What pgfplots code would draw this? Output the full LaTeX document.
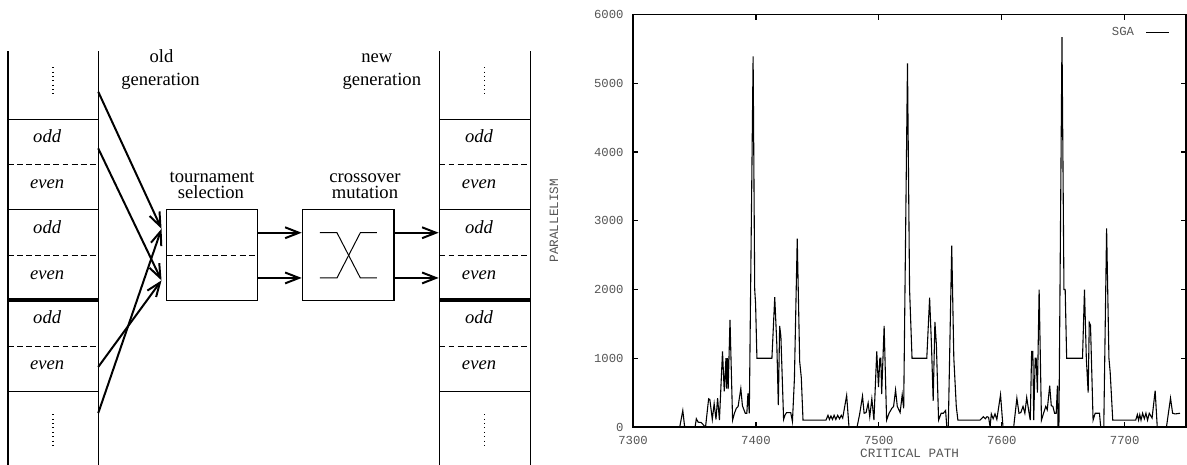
\documentclass[border=0pt]{standalone}
\usepackage{fontspec}
\setmainfont{Liberation Serif}
\newfontfamily\plotfont{Liberation Mono}
\usepackage{pgfplots}
\pgfplotsset{compat=1.18}
\usetikzlibrary{arrows.meta}
\definecolor{cTick}{RGB}{85,85,85}

\pgfplotstableread{
x y
7300 0
7338 0
7340.5 240
7342 0
7350.5 0
7351.5 120
7353 70
7355.5 65
7357.5 25
7359 0
7361.5 410
7362.5 400
7364.5 110
7366 340
7367.5 110
7368.8 420
7370.3 100
7372.8 1100
7374.2 520
7375.6 1000
7376 560
7376.8 1000
7377.4 550
7378.9 1560
7381 100
7382.5 200
7384 270
7385.5 300
7387.7 560
7389 310
7391.3 200
7392.6 200
7393.5 490
7394.6 200
7397.7 5390
7399 2000
7399.7 1800
7400.8 1000
7413 1000
7415.3 1890
7417 1200
7418.2 320
7419.3 1470
7420.3 1320
7422.5 110
7423.8 180
7425 210
7428.3 210
7429.7 80
7431.3 700
7433.6 2740
7435.6 950
7436.9 720
7438.3 100
7457 100
7458.6 170
7459.8 110
7461 160
7462.3 110
7463.6 170
7465 110
7466.5 170
7468 120
7469.4 170
7470.6 130
7473.8 460
7475.7 0
7482.3 0
7484.5 200
7486.7 450
7488 200
7489.6 210
7491.3 350
7492.6 150
7494.3 410
7496 100
7498.3 1100
7499.7 580
7500.8 1000
7501.6 1000
7502.3 480
7504.3 1470
7506.3 100
7508.3 200
7510.5 270
7512 300
7513.6 540
7515 300
7517.3 210
7519 470
7520.2 270
7523.3 5290
7525 2000
7527 1000
7539 1000
7541.3 1880
7542.8 1200
7544.2 380
7545.6 1530
7546.8 1200
7548.6 100
7550.7 200
7552.5 200
7554.3 240
7555.3 0
7556.5 0
7559.3 2640
7561 1000
7563 300
7564.3 100
7582.3 100
7585 150
7586.6 120
7588 150
7589.3 140
7590.5 0
7591.5 190
7593 120
7594.5 190
7596 110
7599 470
7601 0
7609.7 0
7612.3 420
7614 200
7615.5 210
7617.3 300
7618.8 200
7620.3 430
7621.8 250
7623.2 100
7624.3 1100
7625.3 1100
7626 100
7627.2 1000
7628 1000
7629 500
7630.4 2000
7632.3 100
7634 200
7635.8 300
7637 250
7639 600
7640.3 310
7641.6 300
7643 200
7644.3 200
7645.3 600
7645.8 0
7646.5 0
7649 5670
7650.6 2000
7651.6 2000
7652.8 1000
7665.7 1000
7667.3 2000
7668.8 1000
7670.3 500
7671.2 1520
7672.2 1480
7674.3 100
7676 200
7679.5 200
7680.5 0
7683 0
7685.3 2890
7687.2 1000
7688.2 800
7690.3 100
7709 100
7710.3 180
7711.3 100
7712.3 180
7713.3 100
7714.6 200
7716 120
7717.3 200
7718.6 100
7720 200
7722.3 130
7724.8 530
7726.5 0
7734 0
7737.3 420
7739 200
7741 190
7745 200
}\sgadata

\begin{document}
\begin{tikzpicture}
% left half: the diagram, drawn in pixel units of the reference
\begin{scope}[x=0.5pt, y=-0.5pt, font=\fontsize{9.4}{11}\selectfont,
  cell/.style={line width=0.6pt},
  sep/.style={line width=0.5pt, dash pattern=on 3pt off 1.6pt},
  dots/.style={line width=0.6pt, dash pattern=on 0.5pt off 1.7pt},
  arr/.style={line width=1pt, -{Straight Barb[length=7pt, width=5.5pt]}}]
  \useasboundingbox (0,0) rectangle (1187,463);
  \foreach \xl/\xr/\xt in {8/99.3/47.7, 444.3/536/484.3} {
    \draw[cell] (\xl,51.7) -- (\xl,470);
    \draw[cell] (\xr,51.7) -- (\xr,470);
    \draw[cell] (\xl,120.7) -- (\xr,120.7);
    \draw[cell] (\xl,212) -- (\xr,212);
    \draw[cell] (\xl,395.7) -- (\xr,395.7);
    \draw[line width=2pt] (\xl,303.7) -- (\xr,303.7);
    \draw[sep] (\xl,166) -- (\xr-2,166);
    \draw[sep] (\xl,258.3) -- (\xr-2,258.3);
    \draw[sep] (\xl,350) -- (\xr-2,350);
    \draw[dots] ({(\xl+\xr)/2},68) -- ({(\xl+\xr)/2},98);
    \draw[dots] ({(\xl+\xr)/2},419) -- ({(\xl+\xr)/2},452);
    \node[anchor=base] at (\xt,144.3) {\textit{odd}};
    \node[anchor=base] at (\xt,190.7) {\textit{even}};
    \node[anchor=base] at (\xt,235.6) {\textit{odd}};
    \node[anchor=base] at (\xt,283) {\textit{even}};
    \node[anchor=base] at (\xt,327.3) {\textit{odd}};
    \node[anchor=base] at (\xt,374) {\textit{even}};
  }
  \node[anchor=base] at (163.3,63.3) {old};
  \node[anchor=base] at (162.3,86) {generation};
  \node[anchor=base] at (381,63.3) {new};
  \node[anchor=base] at (386,86) {generation};
  \node[anchor=base] at (214.3,184.3) {tournament};
  \node[anchor=base] at (213.3,200.7) {selection};
  \node[anchor=base] at (369,184.3) {crossover};
  \node[anchor=base] at (369,200.7) {mutation};
  % boxes
  \draw[line width=0.6pt] (168.7,212) rectangle (260.3,303.7);
  \draw[sep] (168.7,258.3) -- (260.3,258.3);
  \draw[line width=0.6pt] (306,212) rectangle (398.3,303.7);
  \draw[line width=0.5pt] (323.3,235.3) -- (340.7,235.3) -- (364.3,281) -- (381,281);
  \draw[line width=0.5pt] (323.3,281) -- (340.7,281) -- (364.3,235.3) -- (381,235.3);
  % arrows
  \draw[arr] (99.3,92.7) -- (163.3,231.3);
  \draw[arr] (99.3,150) -- (163.3,283.5);
  \draw[arr] (99.3,371) -- (163.3,283.5);
  \draw[arr] (99.3,417.7) -- (163.3,231.3);
  \draw[arr] (260.3,235.3) -- (305,235.3);
  \draw[arr] (260.3,281) -- (305,281);
  \draw[arr] (398.3,235.3) -- (443.5,235.3);
  \draw[arr] (398.3,281) -- (443.5,281);
\end{scope}
% right half: the plot
\begin{axis}[
  at={(320pt,-215.85pt)}, anchor=south west,
  scale only axis, width=279.6pt, height=208.5pt,
  xmin=7300, xmax=7750, ymin=0, ymax=6000,
  xtick={7300,7400,...,7700}, ytick={0,1000,...,6000},
  /pgf/number format/assume math mode=true,
  /pgf/number format/set thousands separator={},
  tick align=inside, major tick length=2.5pt,
  tick style={black, line width=0.6pt},
  axis line style={black, line width=0.9pt},
  tick label style={font=\plotfont\fontsize{6.2}{7}\selectfont, color=cTick},
  xticklabel style={anchor=center, yshift=-6.6pt},
  yticklabel style={anchor=east, inner sep=0pt, xshift=-4.6pt},
  every axis x label/.style={at={(axis description cs:0.5,-0.0638)}, anchor=center,
    font=\plotfont\fontsize{6.4}{7}\selectfont, color=cTick},
  every axis y label/.style={at={(axis description cs:-0.143,0.5)}, anchor=center,
    rotate=90, font=\plotfont\fontsize{6.4}{7}\selectfont, color=cTick},
  xlabel={CRITICAL PATH}, ylabel={PARALLELISM},
  legend plot pos=right,
  legend image code/.code={\draw[#1] (0pt,0pt) -- (11.5pt,0pt);},
  legend style={at={(axis cs:7737,5737)}, anchor=east, draw=none, fill=none,
    inner sep=0pt, column sep=4pt,
    font=\plotfont\fontsize{6.2}{7}\selectfont, text=cTick},
]
\addplot[black, line width=0.55pt] table[x=x, y=y] {\sgadata};
\legend{SGA}
\end{axis}
\end{tikzpicture}
\end{document}
